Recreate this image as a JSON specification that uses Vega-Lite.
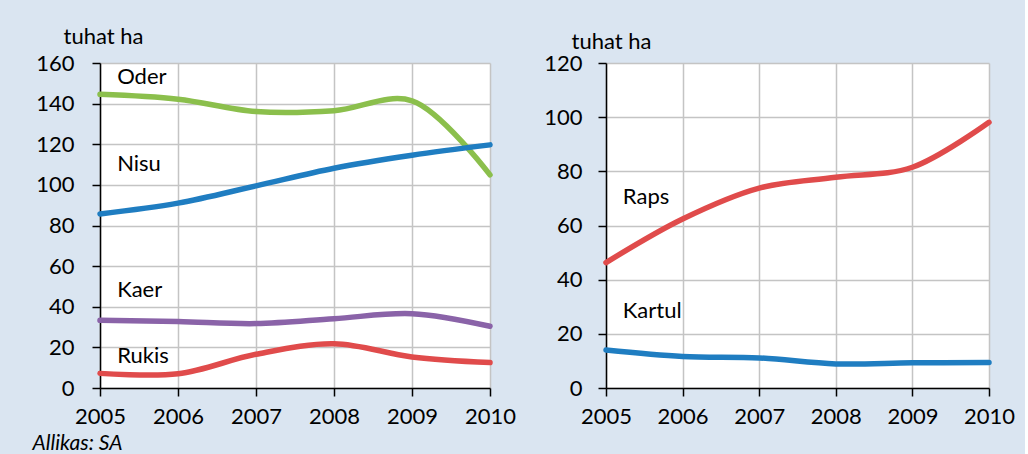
{
  "$schema": "https://vega.github.io/schema/vega-lite/v6.json",
  "background": "#dae5f1",
  "padding": {"left": 32, "top": 25, "right": 10, "bottom": 4},
  "spacing": 116,
  "bounds": "flush",
  "config": {
    "font": "Lato",
    "view": {"fill": "#ffffff", "stroke": null},
    "axis": {
      "labelFont": "Lato", "labelFontSize": 22, "labelColor": "#000000",
      "domainColor": "#000000", "domainWidth": 1.5,
      "tickColor": "#000000", "tickWidth": 1.5, "tickSize": 8,
      "gridColor": "#c4c4c4", "gridWidth": 1.5,
      "titleFont": "Lato", "titleFontSize": 22, "titleFontWeight": "normal", "titleColor": "#000000"
    }
  },
  "datasets": {
    "left": [
      {"aasta": 2005, "kultuur": "Oder", "tuhat_ha": 144.6},
      {"aasta": 2006, "kultuur": "Oder", "tuhat_ha": 142.2},
      {"aasta": 2007, "kultuur": "Oder", "tuhat_ha": 136.1},
      {"aasta": 2008, "kultuur": "Oder", "tuhat_ha": 136.5},
      {"aasta": 2009, "kultuur": "Oder", "tuhat_ha": 141.4},
      {"aasta": 2010, "kultuur": "Oder", "tuhat_ha": 104.9},
      {"aasta": 2005, "kultuur": "Nisu", "tuhat_ha": 85.7},
      {"aasta": 2006, "kultuur": "Nisu", "tuhat_ha": 91.0},
      {"aasta": 2007, "kultuur": "Nisu", "tuhat_ha": 99.5},
      {"aasta": 2008, "kultuur": "Nisu", "tuhat_ha": 108.2},
      {"aasta": 2009, "kultuur": "Nisu", "tuhat_ha": 114.6},
      {"aasta": 2010, "kultuur": "Nisu", "tuhat_ha": 119.7},
      {"aasta": 2005, "kultuur": "Kaer", "tuhat_ha": 33.3},
      {"aasta": 2006, "kultuur": "Kaer", "tuhat_ha": 32.7},
      {"aasta": 2007, "kultuur": "Kaer", "tuhat_ha": 31.7},
      {"aasta": 2008, "kultuur": "Kaer", "tuhat_ha": 34.1},
      {"aasta": 2009, "kultuur": "Kaer", "tuhat_ha": 36.6},
      {"aasta": 2010, "kultuur": "Kaer", "tuhat_ha": 30.4},
      {"aasta": 2005, "kultuur": "Rukis", "tuhat_ha": 7.2},
      {"aasta": 2006, "kultuur": "Rukis", "tuhat_ha": 7.0},
      {"aasta": 2007, "kultuur": "Rukis", "tuhat_ha": 16.6},
      {"aasta": 2008, "kultuur": "Rukis", "tuhat_ha": 21.8},
      {"aasta": 2009, "kultuur": "Rukis", "tuhat_ha": 15.3},
      {"aasta": 2010, "kultuur": "Rukis", "tuhat_ha": 12.5}
    ],
    "leftLabels": [
      {"aasta": 2005.22, "tuhat_ha": 149.6, "silt": "Oder"},
      {"aasta": 2005.22, "tuhat_ha": 106.9, "silt": "Nisu"},
      {"aasta": 2005.22, "tuhat_ha": 44.8, "silt": "Kaer"},
      {"aasta": 2005.22, "tuhat_ha": 12.5, "silt": "Rukis"}
    ],
    "right": [
      {"aasta": 2005, "kultuur": "Raps", "tuhat_ha": 46.3},
      {"aasta": 2006, "kultuur": "Raps", "tuhat_ha": 62.4},
      {"aasta": 2007, "kultuur": "Raps", "tuhat_ha": 73.8},
      {"aasta": 2008, "kultuur": "Raps", "tuhat_ha": 77.8},
      {"aasta": 2009, "kultuur": "Raps", "tuhat_ha": 81.5},
      {"aasta": 2010, "kultuur": "Raps", "tuhat_ha": 98.1},
      {"aasta": 2005, "kultuur": "Kartul", "tuhat_ha": 14.0},
      {"aasta": 2006, "kultuur": "Kartul", "tuhat_ha": 11.6},
      {"aasta": 2007, "kultuur": "Kartul", "tuhat_ha": 11.1},
      {"aasta": 2008, "kultuur": "Kartul", "tuhat_ha": 8.9},
      {"aasta": 2009, "kultuur": "Kartul", "tuhat_ha": 9.3},
      {"aasta": 2010, "kultuur": "Kartul", "tuhat_ha": 9.4}
    ],
    "rightLabels": [
      {"aasta": 2005.22, "tuhat_ha": 67.9, "silt": "Raps"},
      {"aasta": 2005.22, "tuhat_ha": 25.7, "silt": "Kartul"}
    ]
  },
  "hconcat": [
    {
      "width": 390,
      "height": 325,
      "layer": [
        {
          "data": {"name": "left"},
          "mark": {"type": "line", "strokeWidth": 5.5, "interpolate": "catmull-rom", "strokeCap": "round"},
          "encoding": {
            "x": {"field": "aasta", "type": "quantitative",
              "scale": {"domain": [2005, 2010], "nice": false, "zero": false},
              "axis": {"values": [2005, 2006, 2007, 2008, 2009, 2010], "format": "d", "labelPadding": 10, "labelFlush": false,
                "title": "Allikas: SA", "titleFontStyle": "italic", "titleFontSize": 21, "titleAnchor": "start", "titleAlign": "left",
                "titleBaseline": "alphabetic", "titleX": -68, "titleY": 61}},
            "y": {"field": "tuhat_ha", "type": "quantitative",
              "scale": {"domain": [0, 160], "nice": false},
              "axis": {"values": [0, 20, 40, 60, 80, 100, 120, 140, 160], "labelPadding": 18,
                "title": "tuhat ha", "titleAngle": 0, "titleAlign": "left", "titleBaseline": "alphabetic", "titleX": -37, "titleY": -20}},
            "color": {"field": "kultuur", "type": "nominal",
              "scale": {"domain": ["Oder", "Nisu", "Kaer", "Rukis"], "range": ["#8bbf4c", "#1f7dc1", "#8a63a8", "#e04b4b"]},
              "legend": null}
          }
        },
        {
          "data": {"name": "leftLabels"},
          "mark": {"type": "text", "align": "left", "baseline": "alphabetic", "fontSize": 22, "font": "Lato", "color": "#000000"},
          "encoding": {
            "x": {"field": "aasta", "type": "quantitative"},
            "y": {"field": "tuhat_ha", "type": "quantitative"},
            "text": {"field": "silt"}
          }
        }
      ]
    },
    {
      "width": 383,
      "height": 325,
      "layer": [
        {
          "data": {"name": "right"},
          "mark": {"type": "line", "strokeWidth": 5.5, "interpolate": "catmull-rom", "strokeCap": "round"},
          "encoding": {
            "x": {"field": "aasta", "type": "quantitative",
              "scale": {"domain": [2005, 2010], "nice": false, "zero": false},
              "axis": {"values": [2005, 2006, 2007, 2008, 2009, 2010], "format": "d", "labelPadding": 10, "labelFlush": false, "title": null}},
            "y": {"field": "tuhat_ha", "type": "quantitative",
              "scale": {"domain": [0, 120], "nice": false},
              "axis": {"values": [0, 20, 40, 60, 80, 100, 120], "labelPadding": 16,
                "title": "tuhat ha", "titleAngle": 0, "titleAlign": "left", "titleBaseline": "alphabetic", "titleX": -35, "titleY": -15}},
            "color": {"field": "kultuur", "type": "nominal",
              "scale": {"domain": ["Raps", "Kartul"], "range": ["#e04b4b", "#1f7dc1"]},
              "legend": null}
          }
        },
        {
          "data": {"name": "rightLabels"},
          "mark": {"type": "text", "align": "left", "baseline": "alphabetic", "fontSize": 22, "font": "Lato", "color": "#000000"},
          "encoding": {
            "x": {"field": "aasta", "type": "quantitative"},
            "y": {"field": "tuhat_ha", "type": "quantitative"},
            "text": {"field": "silt"}
          }
        }
      ]
    }
  ],
  "resolve": {"scale": {"color": "independent"}}
}
